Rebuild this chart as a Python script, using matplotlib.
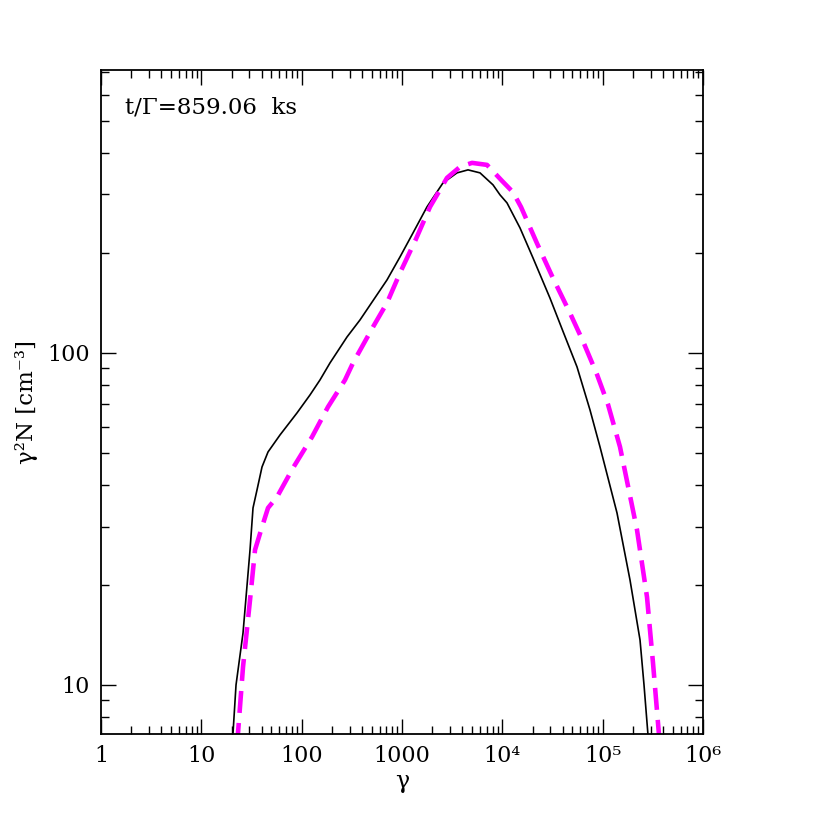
import numpy as np
import matplotlib
matplotlib.use("Agg")
import matplotlib.pyplot as plt
from matplotlib.ticker import LogLocator, FixedLocator, FixedFormatter, NullFormatter

plt.rcParams['font.family'] = ['DejaVu Serif']

# black solid curve (gamma, gamma^2 N)
g_solid = [20.21, 20.69, 22.16, 26.02, 30.56, 32.73, 35.88, 40.24, 46.19, 60.83,
           89.84, 121.1, 152.3, 191.6, 283.1, 381.5, 708.9, 955.5, 1287.6, 1775,
           2563, 3534, 4550, 5991, 8074, 9482, 11131, 15006, 20223, 29868,
           40251, 55520, 74790, 94100, 139000, 187300, 235800, 258400, 283100, 289700]
n_solid = [6.60, 7.17, 10.0, 14.34, 25.51, 34.13, 38.68, 45.35, 50.32, 56.62,
           65.96, 74.73, 82.92, 93.3, 111.7, 125.7, 165.9, 194.6, 229.8, 275.3,
           325.1, 348.5, 355.8, 348.5, 320.7, 299.2, 283.0, 237.9, 193.2, 146.2,
           116.1, 90.76, 67.34, 52.12, 32.97, 20.72, 13.66, 10.0, 7.07, 6.37]

# magenta dashed curve
g_dash = [22.67, 23.20, 26.02, 30.56, 34.27, 40.24, 46.19, 56.78, 81.97, 126.8,
          183.0, 270.4, 324.9, 514.0, 708.9, 955.5, 1379, 1902, 2809, 3786,
          4988, 7037, 9927, 12780, 15360, 22160, 32000, 47270, 63700, 87840,
          113000, 148900, 220000, 276700, 317600, 364500, 372800]
n_dash = [6.60, 7.17, 11.33, 18.03, 25.51, 29.92, 34.13, 36.84, 45.04, 55.85,
          68.77, 82.92, 93.3, 119.7, 141.5, 174.2, 220.4, 275.3, 336.6, 363.3,
          373.5, 368.3, 329.7, 304.8, 275.0, 213.8, 167.9, 131.8, 108.4, 86.1,
          70.0, 52.12, 29.31, 18.41, 11.65, 7.07, 6.37]

xticks = [1, 10, 100, 1000, 1e4, 1e5, 1e6]
xlabels = ['1', '10', '100', '1000', '10⁴', '10⁵', '10⁶']
yticks = [10, 100]
ylabels = ['10', '100']

fig = plt.figure(figsize=(8.22, 8.22), dpi=100)
ax = fig.add_axes([0.1229, 0.1071, 0.7323, 0.8077])

ax.plot(g_solid, n_solid, color='black', lw=1.2)
ax.plot(g_dash, n_dash, color='#ff00ff', lw=3.3, dashes=(4.8, 2.2))

ax.set_xscale('log')
ax.set_yscale('log')
ax.set_xlim(1, 1e6)
ax.set_ylim(7.12, 711)

ax.xaxis.set_major_locator(FixedLocator(xticks))
ax.xaxis.set_major_formatter(FixedFormatter(xlabels))
ax.xaxis.set_minor_locator(LogLocator(base=10, subs=np.arange(2, 10), numticks=20))
ax.xaxis.set_minor_formatter(NullFormatter())
ax.yaxis.set_major_locator(FixedLocator(yticks))
ax.yaxis.set_major_formatter(FixedFormatter(ylabels))
ax.yaxis.set_minor_locator(LogLocator(base=10, subs=np.arange(2, 10), numticks=20))
ax.yaxis.set_minor_formatter(NullFormatter())

ax.tick_params(which='both', direction='in', top=True, right=True, width=1.0)
ax.tick_params(which='major', length=11, labelsize=16, pad=8)
ax.tick_params(which='minor', length=5.5)
for s in ax.spines.values():
    s.set_linewidth(1.3)

ax.set_xlabel('γ', fontsize=17, labelpad=2)
ax.set_ylabel('γ²N [cm⁻³]', fontsize=16.5, labelpad=7)

ax.text(0.04, 0.943, 't/Γ=859.06  ks', transform=ax.transAxes, fontsize=16.5,
        ha='left', va='center')

fig.savefig('out.png', dpi=100)
